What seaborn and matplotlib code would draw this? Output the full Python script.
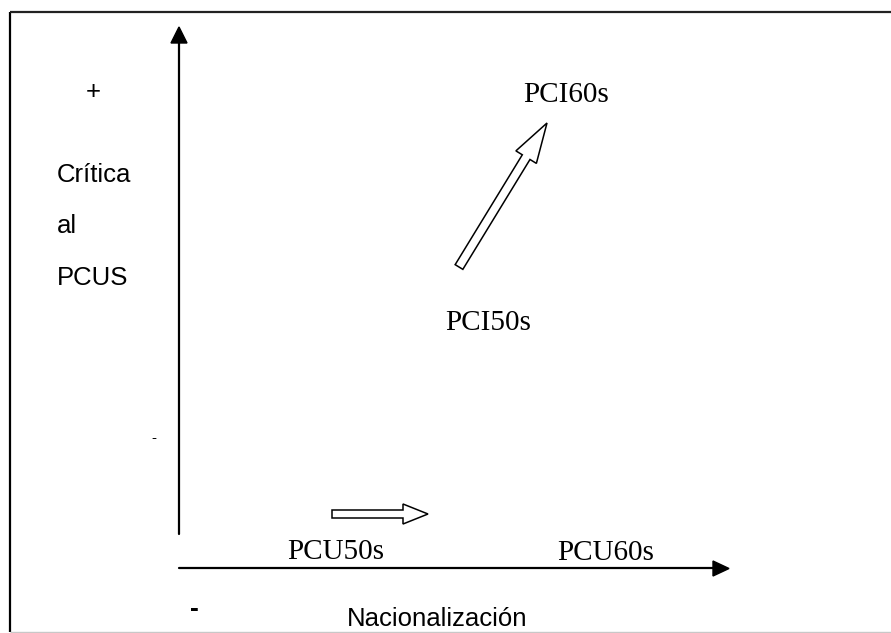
import matplotlib
matplotlib.use("Agg")
import matplotlib.pyplot as plt
from matplotlib.patches import FancyArrow, Polygon
import seaborn as sns
import pandas as pd

# ---- content (diagram positions in pixel space of the 891x633 canvas) ----
serif_labels = ["PCI60s", "PCI50s", "PCU50s", "PCU60s"]
serif_x = [523, 445, 287, 557]
serif_y = [102, 330, 559, 560]

sans_labels = ["+", "Crítica", "al", "PCUS", "Nacionalización"]
sans_x = [86, 57, 57, 57, 347]
sans_y = [99, 182, 233, 285, 626]

# y-axis and x-axis of the diagram
axis_x = [179, 179]
axis_y = [534, 42]
haxis_x = [179, 714]
haxis_y = [568, 568]

# hollow arrows: tail -> tip
arrow_tail_x = [459, 332]
arrow_tail_y = [267, 514]
arrow_tip_x = [547, 428]
arrow_tip_y = [123, 514]

W, H = 891, 633
sns.set_theme(style="white")
plt.rcParams["font.family"] = ["Liberation Sans", "DejaVu Sans"]

fig = plt.figure(figsize=(W / 100, H / 100), dpi=100)
ax = fig.add_axes([0, 0, 1, 1])

# axes lines via seaborn
vdf = pd.DataFrame({"x": axis_x, "y": axis_y})
hdf = pd.DataFrame({"x": haxis_x, "y": haxis_y})
sns.lineplot(data=vdf, x="x", y="y", ax=ax, color="black", lw=1.6, sort=False, estimator=None)
sns.lineplot(data=hdf, x="x", y="y", ax=ax, color="black", lw=1.6, sort=False, estimator=None)
ax.set_xlim(0, W)
ax.set_ylim(H, 0)
ax.axis("off")

# frame
ax.plot([10, 10], [12, 632], color="black", lw=1.6, solid_capstyle="butt")
ax.plot([10, W], [12, 12], color="#222222", lw=1.6, solid_capstyle="butt")
ax.plot([10, W], [632, 632], color="#c8c8c8", lw=1.0, solid_capstyle="butt")

# filled arrow heads
ax.add_patch(Polygon([[171, 43], [187, 43], [179, 27]], closed=True, color="black"))
ax.add_patch(Polygon([[713, 561], [713, 576], [729, 568.5]], closed=True, color="black"))

# hollow arrows
head_w = [24, 20]
head_l = [40, 25]
shaft_w = [9, 8]
for tx, ty, px, py, hw, hl, sw in zip(arrow_tail_x, arrow_tail_y, arrow_tip_x, arrow_tip_y,
                                      head_w, head_l, shaft_w):
    ax.add_patch(FancyArrow(tx, ty, px - tx, py - ty, width=sw, head_width=hw,
                            head_length=hl, length_includes_head=True,
                            facecolor="white", edgecolor="black", lw=1.1))

# serif labels
for lab, x, y in zip(serif_labels, serif_x, serif_y):
    ax.text(x, y, lab, fontsize=21, family=["Liberation Serif", "DejaVu Serif"],
            ha="left", va="baseline", color="black")

# sans labels
for lab, x, y in zip(sans_labels, sans_x, sans_y):
    ax.text(x, y, lab, fontsize=18.5, ha="left", va="baseline", color="black")

# minus signs
ax.text(153.5, 442, "-", fontsize=11, ha="center", va="baseline", color="black")
ax.text(194.5, 616, "-", fontsize=19, fontweight="bold", ha="center", va="baseline", color="black")

fig.savefig("out.png", dpi=100, facecolor="white")
